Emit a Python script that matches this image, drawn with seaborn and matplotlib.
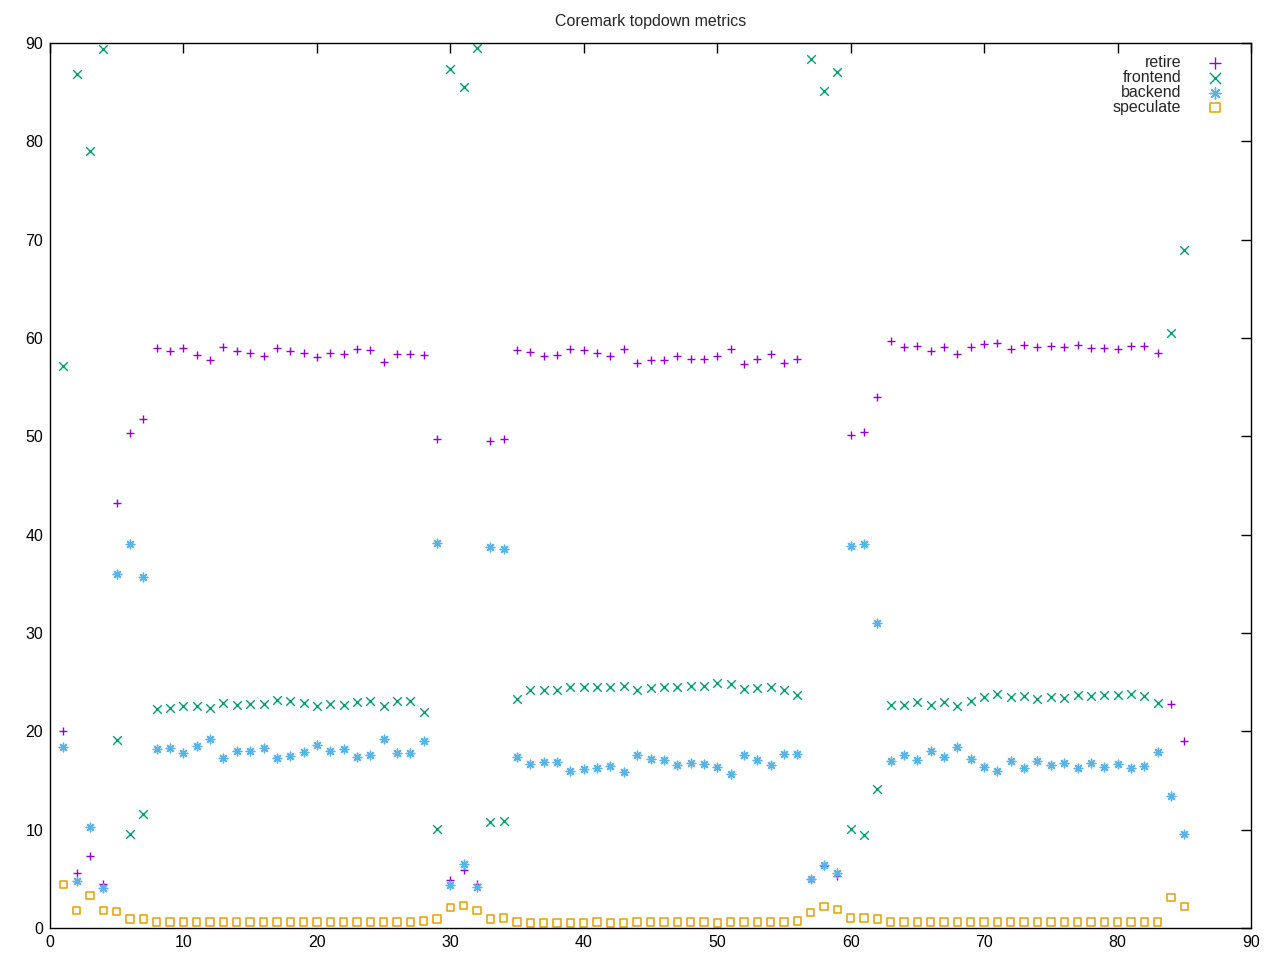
import pandas as pd
import seaborn as sns
import matplotlib.pyplot as plt

# topdown metrics per sample (percent)
samples = list(range(1, 86))

retire = [20.0, 5.6, 7.3, 4.5, 43.2, 50.3, 51.8, 59.0, 58.7, 59.0,
          58.3, 57.8, 59.1, 58.7, 58.5, 58.2, 59.0, 58.7, 58.5, 58.1,
          58.5, 58.4, 58.9, 58.8, 57.6, 58.4, 58.4, 58.3, 49.7, 4.9,
          5.9, 4.5, 49.5, 49.7, 58.8, 58.6, 58.2, 58.3, 58.9, 58.8,
          58.5, 58.2, 58.9, 57.5, 57.8, 57.8, 58.2, 57.9, 57.9, 58.2,
          58.9, 57.4, 57.9, 58.4, 57.5, 57.9, 5.0, 6.3, 5.3, 50.1,
          50.4, 54.0, 59.7, 59.1, 59.2, 58.7, 59.1, 58.4, 59.1, 59.4,
          59.5, 58.9, 59.3, 59.1, 59.2, 59.1, 59.3, 59.0, 59.0, 58.9,
          59.2, 59.2, 58.5, 22.8, 19.0]

frontend = [57.2, 86.8, 79.0, 89.4, 19.1, 9.6, 11.6, 22.3, 22.4, 22.6,
            22.6, 22.4, 22.9, 22.7, 22.8, 22.8, 23.2, 23.1, 22.9, 22.6,
            22.8, 22.7, 23.0, 23.1, 22.6, 23.1, 23.1, 22.0, 10.1, 87.4,
            85.5, 89.5, 10.8, 10.9, 23.3, 24.2, 24.2, 24.2, 24.5, 24.5,
            24.5, 24.5, 24.6, 24.2, 24.4, 24.5, 24.5, 24.6, 24.6, 24.9,
            24.8, 24.3, 24.4, 24.5, 24.2, 23.7, 88.4, 85.1, 87.1, 10.1,
            9.5, 14.1, 22.7, 22.7, 23.0, 22.7, 23.0, 22.6, 23.1, 23.5,
            23.8, 23.5, 23.6, 23.3, 23.5, 23.4, 23.7, 23.6, 23.7, 23.7,
            23.8, 23.6, 22.9, 60.5, 68.9]

backend = [18.4, 4.8, 10.3, 4.1, 36.0, 39.1, 35.7, 18.2, 18.3, 17.8,
           18.5, 19.2, 17.3, 18.0, 18.0, 18.3, 17.3, 17.5, 17.9, 18.6,
           18.0, 18.2, 17.4, 17.6, 19.2, 17.8, 17.8, 19.0, 39.2, 4.4,
           6.5, 4.2, 38.7, 38.5, 17.4, 16.7, 16.9, 16.9, 16.0, 16.2,
           16.3, 16.5, 15.9, 17.6, 17.2, 17.1, 16.6, 16.8, 16.7, 16.4,
           15.7, 17.6, 17.1, 16.6, 17.7, 17.7, 5.0, 6.4, 5.6, 38.8,
           39.1, 31.0, 17.0, 17.6, 17.1, 18.0, 17.4, 18.4, 17.2, 16.4,
           16.0, 17.0, 16.3, 17.0, 16.6, 16.8, 16.3, 16.8, 16.4, 16.7,
           16.3, 16.5, 17.9, 13.4, 9.6]

speculate = [4.4, 1.8, 3.3, 1.8, 1.7, 0.9, 0.9, 0.6, 0.6, 0.6,
             0.6, 0.6, 0.6, 0.6, 0.6, 0.6, 0.6, 0.6, 0.6, 0.6,
             0.6, 0.6, 0.6, 0.6, 0.6, 0.6, 0.6, 0.7, 0.9, 2.1,
             2.3, 1.8, 0.9, 1.0, 0.6, 0.5, 0.5, 0.5, 0.5, 0.5,
             0.6, 0.5, 0.5, 0.6, 0.6, 0.6, 0.6, 0.6, 0.6, 0.5,
             0.6, 0.6, 0.6, 0.6, 0.6, 0.7, 1.6, 2.2, 1.9, 1.0,
             1.0, 0.9, 0.6, 0.6, 0.6, 0.6, 0.6, 0.6, 0.6, 0.6,
             0.6, 0.6, 0.6, 0.6, 0.6, 0.6, 0.6, 0.6, 0.6, 0.6,
             0.6, 0.6, 0.6, 3.1, 2.2]

sns.set_style("white")
plt.rcParams['font.family'] = ['Liberation Sans', 'DejaVu Sans']

fig = plt.figure(figsize=(12.8, 9.6), dpi=100)
ax = fig.add_axes([50 / 1280, 32 / 960, 1201 / 1280, 885 / 960])

series = [
    ("retire", retire, "#9400d3", "+"),
    ("frontend", frontend, "#009e73", "x"),
    ("backend", backend, "#56b4e9", (8, 2, 0)),
    ("speculate", speculate, "#e69f00", "s"),
]

for name, vals, color, marker in series:
    df = pd.DataFrame({"x": samples, "y": vals})
    if marker == "s":
        sns.scatterplot(data=df, x="x", y="y", ax=ax, marker=marker, s=28,
                        facecolors="none", edgecolor=color, linewidth=1.1,
                        label=name)
    else:
        sns.scatterplot(data=df, x="x", y="y", ax=ax, marker=marker, s=38,
                        color=color, linewidth=1.0, label=name)

ax.set_xlim(0, 90)
ax.set_ylim(0, 90)
ax.set_xticks(range(0, 91, 10))
ax.set_yticks(range(0, 91, 10))
ax.set_xlabel("")
ax.set_ylabel("")
ax.tick_params(direction="in", length=7, width=1, top=True, right=True,
               labelsize=11.5, colors="black", pad=5)
for sp in ax.spines.values():
    sp.set_color("black")
    sp.set_linewidth(1)

ax.set_title("Coremark topdown metrics", fontsize=11.5, pad=12)

ax.legend(loc="upper right", bbox_to_anchor=(0.982, 0.994), frameon=False,
          markerfirst=False, fontsize=11.5, handlelength=1.0, markerscale=1.3,
          handletextpad=1.6, labelspacing=0.0, borderaxespad=0)

fig.savefig("out.png", dpi=100)
